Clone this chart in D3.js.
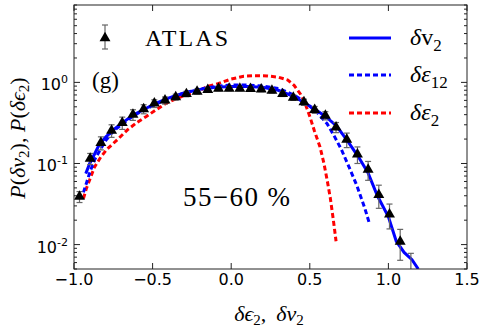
<!DOCTYPE html>
<html>
<head>
<meta charset="utf-8">
<script src="https://cdn.jsdelivr.net/npm/d3@7"></script>
<style>
body { margin: 0; background: #fff; }
svg { display: block; }
</style>
</head>
<body>
<svg></svg>
<script>
// ATLAS points (55-60 %)
var atlasX = [-0.965, -0.897, -0.829, -0.761, -0.693, -0.625, -0.557, -0.489, -0.421, -0.353,
              -0.285, -0.217, -0.149, -0.081, -0.013, 0.055, 0.123, 0.191, 0.259, 0.327,
              0.395, 0.463, 0.531, 0.599, 0.667, 0.735, 0.803, 0.871, 0.939, 1.007, 1.075, 1.143];
var atlasY = [0.039, 0.115, 0.18, 0.255, 0.318, 0.40, 0.47, 0.55, 0.60, 0.66,
              0.72, 0.77, 0.81, 0.84, 0.84, 0.84, 0.83, 0.82, 0.79, 0.72,
              0.65, 0.57, 0.46, 0.39, 0.28, 0.197, 0.13, 0.084, 0.041, 0.0236, 0.0109, 0.004];
var atlasErr = [0.006, 0.018, 0.033, 0.045, 0.055, 0.06, 0.06, 0.06, 0.06, 0.055,
                0.055, 0.05, 0.05, 0.05, 0.05, 0.05, 0.05, 0.05, 0.05, 0.05,
                0.05, 0.05, 0.045, 0.045, 0.04, 0.04, 0.03, 0.022, 0.013, 0.008, 0.0045, 0.0038];

// delta v2 (solid blue)
var v2X = [-0.925, -0.90, -0.87, -0.84, -0.80, -0.75, -0.70, -0.62, -0.55, -0.48, -0.40, -0.30,
           -0.20, -0.10, 0.00, 0.10, 0.20, 0.30, 0.40, 0.46, 0.53, 0.60, 0.67, 0.74, 0.81, 0.87,
           0.93, 1.00, 1.05, 1.10, 1.15, 1.19];
var v2Y = [0.075, 0.10, 0.13, 0.17, 0.21, 0.26, 0.31, 0.40, 0.47, 0.55, 0.64, 0.74,
           0.82, 0.87, 0.89, 0.89, 0.87, 0.80, 0.67, 0.57, 0.47, 0.38, 0.29, 0.19, 0.12, 0.077,
           0.040, 0.022, 0.011, 0.008, 0.0065, 0.005];

// delta eps12 (dashed blue)
var e12X = [-0.94, -0.92, -0.90, -0.87, -0.84, -0.80, -0.75, -0.70, -0.62, -0.55, -0.48, -0.40,
            -0.30, -0.20, -0.10, 0.00, 0.10, 0.20, 0.30, 0.36, 0.42, 0.48, 0.55, 0.61, 0.66,
            0.70, 0.75, 0.80, 0.85, 0.88];
var e12Y = [0.044, 0.058, 0.077, 0.11, 0.14, 0.19, 0.25, 0.30, 0.39, 0.46, 0.54, 0.63,
            0.74, 0.83, 0.89, 0.93, 0.93, 0.90, 0.84, 0.76, 0.66, 0.55, 0.42, 0.31, 0.21,
            0.15, 0.09, 0.053, 0.028, 0.018];

// delta eps2 (dashed red)
var e2X = [-0.94, -0.92, -0.90, -0.87, -0.83, -0.79, -0.72, -0.66, -0.60, -0.54, -0.47, -0.41,
           -0.34, -0.28, -0.20, -0.15, -0.08, 0.00, 0.08, 0.15, 0.23, 0.30, 0.36, 0.40, 0.44,
           0.47, 0.50, 0.53, 0.565, 0.59, 0.61, 0.63, 0.65, 0.667];
var e2Y = [0.037, 0.05, 0.063, 0.09, 0.12, 0.15, 0.20, 0.26, 0.32, 0.38, 0.47, 0.56,
           0.64, 0.71, 0.80, 0.89, 0.97, 1.10, 1.19, 1.21, 1.20, 1.16, 1.07, 0.92, 0.72,
           0.55, 0.38, 0.25, 0.16, 0.10, 0.063, 0.038, 0.02, 0.011];

var xTicks = [-1.0, -0.5, 0.0, 0.5, 1.0, 1.5];
var xTickLabels = ["\u22121.0", "\u22120.5", "0.0", "0.5", "1.0", "1.5"];
var yTicks = [0.01, 0.1, 1];
var yTickExp = ["-2", "-1", "0"];

var W = 481, H = 327;
var pL = 74, pR = 467, pT = 5, pB = 269;

var svg = d3.select("svg").attr("width", W).attr("height", H);

var x = d3.scaleLinear().domain([-1, 1.5]).range([pL, pR]);
var y = d3.scaleLog().domain([0.005, 9]).range([pB, pT]);

svg.append("defs").append("clipPath").attr("id", "clip")
  .append("rect").attr("x", pL).attr("y", pT)
  .attr("width", pR - pL).attr("height", pB - pT);

var plot = svg.append("g").attr("clip-path", "url(#clip)");

var line = d3.line().x(d => x(d[0])).y(d => y(d[1]));

function pairs(xs, ys) { return xs.map((v, i) => [v, ys[i]]); }

plot.append("path").datum(pairs(e2X, e2Y))
  .attr("d", line).attr("fill", "none").attr("stroke", "#ff0000")
  .attr("stroke-width", 3).attr("stroke-dasharray", "5,3");

plot.append("path").datum(pairs(e12X, e12Y))
  .attr("d", line).attr("fill", "none").attr("stroke", "#0000ff")
  .attr("stroke-width", 3).attr("stroke-dasharray", "5,3");

plot.append("path").datum(pairs(v2X, v2Y))
  .attr("d", line).attr("fill", "none").attr("stroke", "#0000ff")
  .attr("stroke-width", 3);

// error bars
var pts = atlasX.map((v, i) => ({x: v, y: atlasY[i], e: atlasErr[i]}));
var lo = d => y(Math.max(d.y - d.e, 1e-4));
var hi = d => y(d.y + d.e);
var eb = plot.selectAll(".eb").data(pts).enter().append("g").attr("class", "eb")
  .attr("stroke", "#666").attr("stroke-width", 1.2);
eb.append("line")
  .attr("x1", d => x(d.x)).attr("x2", d => x(d.x))
  .attr("y1", lo).attr("y2", hi);
eb.append("line")
  .attr("x1", d => x(d.x) - 3).attr("x2", d => x(d.x) + 3)
  .attr("y1", hi).attr("y2", hi);
eb.append("line")
  .attr("x1", d => x(d.x) - 3).attr("x2", d => x(d.x) + 3)
  .attr("y1", lo).attr("y2", lo);

var tri = d3.symbol().type(d3.symbolTriangle).size(52);
plot.selectAll(".pt").data(pts).enter().append("path")
  .attr("d", tri)
  .attr("transform", d => "translate(" + x(d.x) + "," + y(d.y) + ")")
  .attr("fill", "#000");

// frame
svg.append("rect").attr("x", pL).attr("y", pT)
  .attr("width", pR - pL).attr("height", pB - pT)
  .attr("fill", "none").attr("stroke", "#222").attr("stroke-width", 1);

var ax = svg.append("g").attr("stroke", "#222").attr("stroke-width", 1);
xTicks.forEach(function(t) {
  ax.append("line").attr("x1", x(t)).attr("x2", x(t)).attr("y1", pB).attr("y2", pB - 6);
  ax.append("line").attr("x1", x(t)).attr("x2", x(t)).attr("y1", pT).attr("y2", pT + 6);
});
y.ticks().forEach(function(t) {
  var major = yTicks.some(m => Math.abs(m - t) < 1e-9);
  var len = major ? 6 : 3;
  ax.append("line").attr("x1", pL).attr("x2", pL + len).attr("y1", y(t)).attr("y2", y(t));
  ax.append("line").attr("x1", pR).attr("x2", pR - len).attr("y1", y(t)).attr("y2", y(t));
});

var sans = "DejaVu Sans, sans-serif";
var serif = "Liberation Serif, DejaVu Serif, serif";

svg.selectAll(".xl").data(xTicks).enter().append("text")
  .attr("x", d => x(d)).attr("y", pB + 16)
  .attr("text-anchor", "middle").attr("font-family", sans).attr("font-size", 16)
  .text((d, i) => xTickLabels[i]);

yTicks.forEach(function(t, i) {
  var tx = svg.append("text").attr("x", pL - 6).attr("y", y(t) + 8)
    .attr("text-anchor", "end").attr("font-family", sans).attr("font-size", 16);
  tx.append("tspan").text("10");
  tx.append("tspan").attr("dy", -7).attr("font-size", 11).text(yTickExp[i]);
});

// axis labels
var xl = svg.append("text").attr("x", 269).attr("y", 321)
  .attr("text-anchor", "middle").attr("font-family", serif).attr("font-size", 22);
xl.append("tspan").attr("font-style", "italic").text("\u03b4\u03f5");
xl.append("tspan").attr("font-size", 15).attr("dy", 4).text("2");
xl.append("tspan").attr("dy", -4).text(",\u2009 ");
xl.append("tspan").attr("font-style", "italic").text("\u03b4v");
xl.append("tspan").attr("font-size", 15).attr("dy", 4).text("2");

var yl = svg.append("text").attr("transform", "translate(25,138) rotate(-90)")
  .attr("text-anchor", "middle").attr("font-family", serif).attr("font-size", 22);
yl.append("tspan").attr("font-style", "italic").text("P");
yl.append("tspan").text("(");
yl.append("tspan").attr("font-style", "italic").text("\u03b4v");
yl.append("tspan").attr("font-size", 15).attr("dy", 4).text("2");
yl.append("tspan").attr("dy", -4).text("), ");
yl.append("tspan").attr("font-style", "italic").text("P");
yl.append("tspan").text("(");
yl.append("tspan").attr("font-style", "italic").text("\u03b4\u03f5");
yl.append("tspan").attr("font-size", 15).attr("dy", 4).text("2");
yl.append("tspan").attr("dy", -4).text(")");

// annotations
svg.append("text").attr("x", 92).attr("y", 88).attr("font-family", serif)
  .attr("font-size", 23).text("(g)");
svg.append("text").attr("x", 183).attr("y", 206).attr("font-family", serif)
  .attr("font-size", 27).attr("textLength", 107).attr("lengthAdjust", "spacing")
  .text("55\u221260 %");

// legend
var lg = svg.append("g");
lg.append("line").attr("x1", 105).attr("x2", 105).attr("y1", 25).attr("y2", 49)
  .attr("stroke", "#666").attr("stroke-width", 1.2);
lg.append("line").attr("x1", 102).attr("x2", 108).attr("y1", 25).attr("y2", 25)
  .attr("stroke", "#666").attr("stroke-width", 1.2);
lg.append("line").attr("x1", 102).attr("x2", 108).attr("y1", 49).attr("y2", 49)
  .attr("stroke", "#666").attr("stroke-width", 1.2);
lg.append("path").attr("d", tri).attr("transform", "translate(105,38)").attr("fill", "#000");
lg.append("text").attr("x", 145).attr("y", 46).attr("font-family", serif)
  .attr("font-size", 24).attr("textLength", 83).attr("lengthAdjust", "spacing").text("ATLAS");

var legItems = [
  {y: 38, color: "#0000ff", dash: null, main: "\u03b4", sym: "v", sub: "2", symItalic: false},
  {y: 75, color: "#0000ff", dash: "5,3", main: "\u03b4", sym: "\u03b5", sub: "12", symItalic: true},
  {y: 113, color: "#ff0000", dash: "5,3", main: "\u03b4", sym: "\u03b5", sub: "2", symItalic: true}
];
legItems.forEach(function(d) {
  lg.append("line").attr("x1", 349).attr("x2", 391).attr("y1", d.y).attr("y2", d.y)
    .attr("stroke", d.color).attr("stroke-width", 3)
    .attr("stroke-dasharray", d.dash);
  var t = lg.append("text").attr("x", 410).attr("y", d.y + 7)
    .attr("font-family", serif).attr("font-size", 24);
  t.append("tspan").attr("font-style", "italic").text(d.main);
  t.append("tspan").attr("font-style", d.symItalic ? "italic" : "normal").text(d.sym);
  t.append("tspan").attr("font-size", 17).attr("dy", 6).text(d.sub);
});
</script>
</body>
</html>
